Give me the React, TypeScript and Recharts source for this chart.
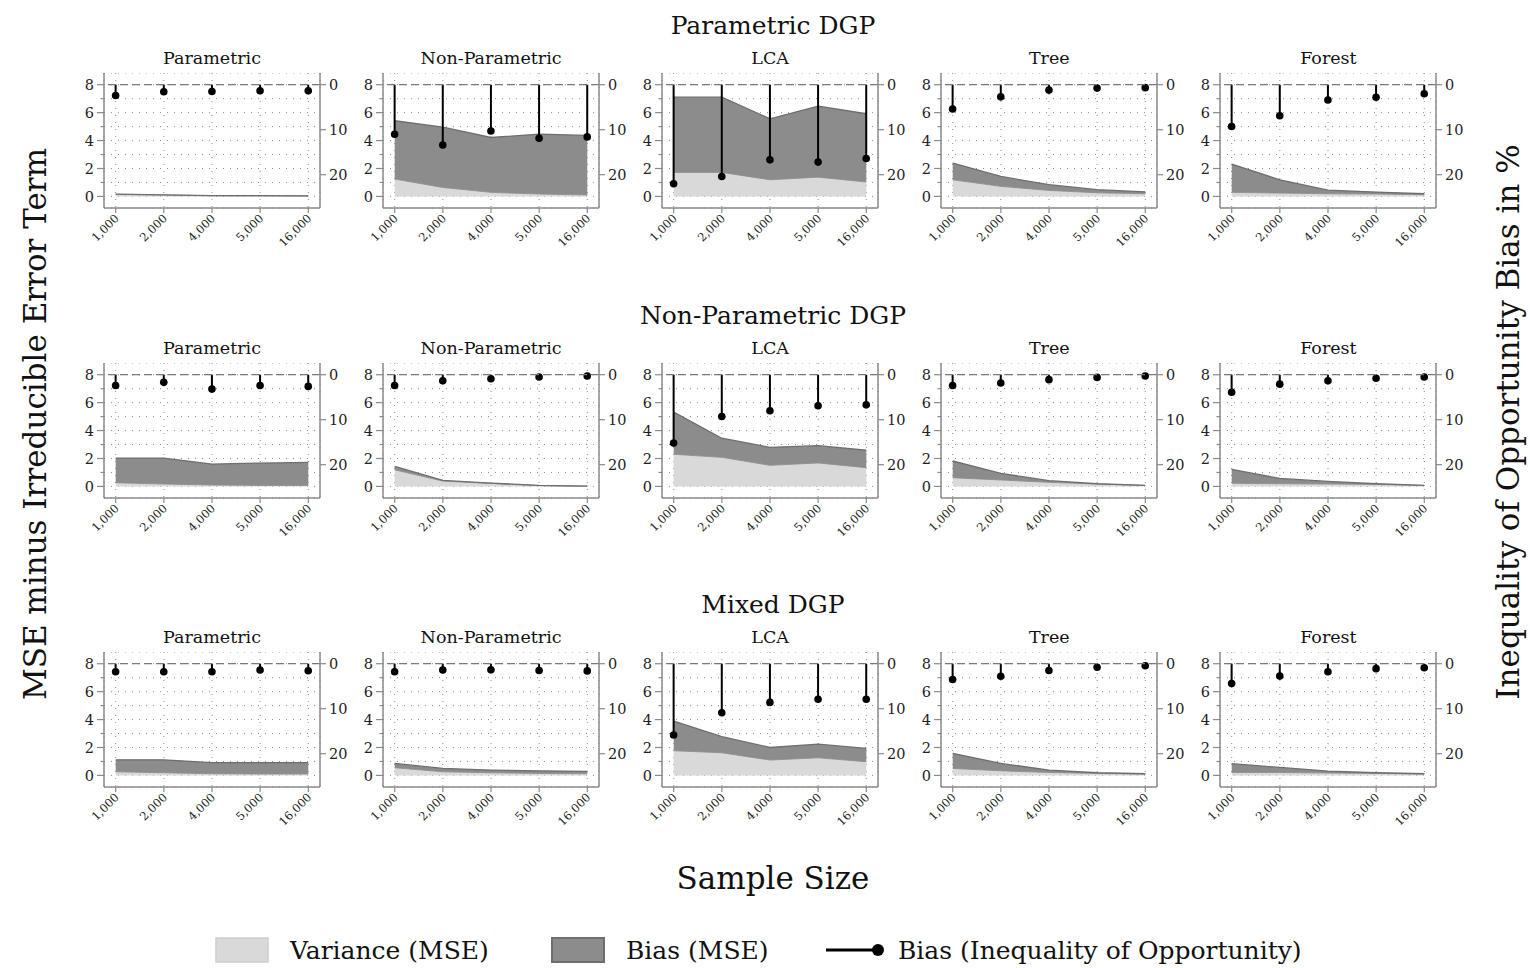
import { ComposedChart, Area, Bar, XAxis, YAxis, CartesianGrid, ReferenceLine } from 'recharts';

const sampleSizes = ['1,000', '2,000', '4,000', '5,000', '16,000'];
const estimators = ['Parametric', 'Non-Parametric', 'LCA', 'Tree', 'Forest'];
const dgps = ['Parametric DGP', 'Non-Parametric DGP', 'Mixed DGP'];

// one row per estimator (Parametric, Non-Parametric, LCA, Tree, Forest), one value per sample size
const varParametricDGP = [
  [0.15, 0.1, 0.05, 0.04, 0.03],
  [1.24, 0.64, 0.29, 0.17, 0.1],
  [1.72, 1.72, 1.19, 1.38, 1.03],
  [1.19, 0.72, 0.43, 0.26, 0.19],
  [0.29, 0.24, 0.19, 0.17, 0.12],
];
const biasParametricDGP = [
  [0.02, 0.01, 0.01, 0.01, 0.01],
  [4.18, 4.32, 3.93, 4.29, 4.27],
  [5.39, 5.39, 4.37, 5.09, 4.89],
  [1.2, 0.71, 0.41, 0.22, 0.14],
  [2.03, 0.95, 0.26, 0.14, 0.07],
];
const iopParametricDGP = [
  [2.4, 1.55, 1.5, 1.35, 1.35],
  [11.0, 13.4, 10.3, 11.9, 11.6],
  [22.0, 20.4, 16.7, 17.2, 16.4],
  [5.4, 2.7, 1.2, 0.75, 0.65],
  [9.3, 6.9, 3.4, 2.8, 2.0],
];

const varNonParametricDGP = [
  [0.26, 0.17, 0.1, 0.07, 0.07],
  [1.19, 0.38, 0.21, 0.05, 0.02],
  [2.3, 2.08, 1.51, 1.68, 1.34],
  [0.62, 0.46, 0.29, 0.17, 0.07],
  [0.22, 0.19, 0.17, 0.14, 0.07],
];
const biasNonParametricDGP = [
  [1.77, 1.86, 1.5, 1.6, 1.65],
  [0.24, 0.05, 0.03, 0.02, 0.0],
  [3.02, 1.37, 1.29, 1.24, 1.25],
  [1.2, 0.47, 0.12, 0.02, 0.0],
  [1.0, 0.38, 0.19, 0.05, 0.0],
];
const iopNonParametricDGP = [
  [2.4, 1.7, 3.2, 2.4, 2.6],
  [2.4, 1.35, 0.9, 0.5, 0.3],
  [15.2, 9.3, 8.0, 6.9, 6.7],
  [2.4, 1.85, 1.1, 0.6, 0.3],
  [3.9, 2.1, 1.35, 0.8, 0.5],
];

const varMixedDGP = [
  [0.26, 0.19, 0.12, 0.1, 0.1],
  [0.55, 0.26, 0.19, 0.14, 0.12],
  [1.77, 1.62, 1.1, 1.26, 0.98],
  [0.5, 0.33, 0.21, 0.14, 0.1],
  [0.21, 0.21, 0.17, 0.14, 0.1],
];
const biasMixedDGP = [
  [0.86, 0.93, 0.79, 0.81, 0.81],
  [0.31, 0.24, 0.19, 0.19, 0.17],
  [2.12, 1.15, 0.9, 0.98, 0.95],
  [1.08, 0.53, 0.17, 0.05, 0.02],
  [0.63, 0.36, 0.14, 0.05, 0.02],
];
const iopMixedDGP = [
  [1.8, 1.8, 1.8, 1.4, 1.55],
  [1.8, 1.4, 1.35, 1.5, 1.6],
  [15.85, 10.9, 8.6, 7.9, 7.9],
  [3.5, 2.8, 1.5, 0.8, 0.45],
  [4.4, 2.75, 1.8, 1.1, 0.9],
];

const varianceByDgp = [varParametricDGP, varNonParametricDGP, varMixedDGP];
const biasByDgp = [biasParametricDGP, biasNonParametricDGP, biasMixedDGP];
const iopByDgp = [iopParametricDGP, iopNonParametricDGP, iopMixedDGP];

const FONT = "'DejaVu Serif', serif";
const AXIS = '#8a8a8a';

const PLOT_W = 216;
const PLOT_H = 135;
const LEFT_W = 34;
const RIGHT_W = 40;
const BOTTOM_H = 58;

const colLeft = (c: number) => 104 + c * 279.1;
const rowTop = (r: number) => 73.3 + r * 289.2;

const LeftTick = (props: any) => {
  const { x, y, payload } = props;
  const v = payload.value;
  const major = v % 2 === 0;
  return (
    <g>
      <line x1={x} x2={x - (major ? 7 : 3.5)} y1={y} y2={y} stroke={AXIS} strokeWidth={1.2} />
      {major && (
        <text x={x - 10} y={y} dy="0.36em" textAnchor="end" fontSize={14.5} fill="#222" fontFamily={FONT}>
          {v}
        </text>
      )}
    </g>
  );
};

const RightTick = (props: any) => {
  const { x, y, payload } = props;
  return (
    <g>
      <line x1={x} x2={x + 6} y1={y} y2={y} stroke={AXIS} strokeWidth={1.2} />
      <text x={x + 9} y={y} dy="0.36em" textAnchor="start" fontSize={14.5} fill="#222" fontFamily={FONT}>
        {payload.value}
      </text>
    </g>
  );
};

const BottomTick = (props: any) => {
  const { x, y, payload } = props;
  const tx = x + 4;
  const ty = y + 11;
  return (
    <g>
      <line x1={x} x2={x} y1={y} y2={y + 5} stroke={AXIS} strokeWidth={1.2} />
      <text
        x={tx}
        y={ty}
        textAnchor="end"
        fontSize={11.5}
        fill="#222"
        fontFamily={FONT}
        transform={`rotate(-45 ${tx} ${ty})`}
      >
        {sampleSizes[payload.value]}
      </text>
    </g>
  );
};

const Lollipop = (props: any) => {
  const { x, y, width, height } = props;
  const cx = x + width / 2;
  const y0 = Math.min(y, y + height);
  const y1 = Math.max(y, y + height);
  return (
    <g>
      <line x1={cx} x2={cx} y1={y0} y2={y1} stroke="#000" strokeWidth={2} />
      <circle cx={cx} cy={y1} r={3.8} fill="#000" />
    </g>
  );
};

function Panel({ dgp, est }: { dgp: number; est: number }) {
  const data = sampleSizes.map((_, i) => ({
    i,
    variance: varianceByDgp[dgp][est][i],
    bias: biasByDgp[dgp][est][i],
    iop: iopByDgp[dgp][est][i],
  }));
  return (
    <ComposedChart
      width={LEFT_W + PLOT_W + RIGHT_W}
      height={PLOT_H + BOTTOM_H}
      data={data}
      margin={{ top: 0, right: 0, bottom: 0, left: 0 }}
      style={{ overflow: 'visible' }}
    >
      <CartesianGrid yAxisId="left" strokeDasharray="1 6" stroke="#8c8c8c" strokeWidth={1} />
      <XAxis
        type="number"
        dataKey="i"
        domain={[-0.243, 4.243]}
        ticks={[0, 1, 2, 3, 4]}
        interval={0}
        allowDataOverflow
        height={BOTTOM_H}
        tickSize={0}
        tickMargin={0}
        tickLine={false}
        axisLine={{ stroke: AXIS, strokeWidth: 1.5 }}
        tick={<BottomTick />}
      />
      <YAxis
        yAxisId="left"
        orientation="left"
        domain={[-0.83, 8.84]}
        ticks={[0, 1, 2, 3, 4, 5, 6, 7, 8]}
        interval={0}
        allowDataOverflow
        width={LEFT_W}
        tickSize={0}
        tickMargin={0}
        tickLine={false}
        axisLine={{ stroke: AXIS, strokeWidth: 1.5 }}
        tick={<LeftTick />}
      />
      <YAxis
        yAxisId="right"
        orientation="right"
        domain={[-2.6, 27.4]}
        reversed
        ticks={[0, 10, 20]}
        interval={0}
        allowDataOverflow
        width={RIGHT_W}
        tickSize={0}
        tickMargin={0}
        tickLine={false}
        axisLine={{ stroke: AXIS, strokeWidth: 1.5 }}
        tick={<RightTick />}
      />
      <Area
        yAxisId="left"
        type="linear"
        dataKey="variance"
        stackId="mse"
        fill="#d9d9d9"
        fillOpacity={1}
        stroke="#9a9a9a"
        strokeWidth={1}
        isAnimationActive={false}
      />
      <Area
        yAxisId="left"
        type="linear"
        dataKey="bias"
        stackId="mse"
        fill="#8c8c8c"
        fillOpacity={1}
        stroke="#6e6e6e"
        strokeWidth={1.3}
        isAnimationActive={false}
      />
      <ReferenceLine yAxisId="right" y={0} stroke="#7a7a7a" strokeWidth={1.3} strokeDasharray="8 4" />
      <Bar yAxisId="right" dataKey="iop" barSize={4} shape={Lollipop} isAnimationActive={false} />
    </ComposedChart>
  );
}

const abs = (left: number, top: number, extra: any = {}) => ({
  position: 'absolute' as const,
  left,
  top,
  fontFamily: FONT,
  color: '#111',
  whiteSpace: 'nowrap' as const,
  ...extra,
});

export default function App() {
  return (
    <div style={{ position: 'relative', width: 1530, height: 968, background: '#fff', overflow: 'hidden' }}>
      <style>{'body{margin:0;}'}</style>

      {dgps.map((name, r) => (
        <div key={name} style={abs(773, rowTop(r) - 48, { fontSize: 25, transform: 'translate(-50%,-50%)' })}>
          {name}
        </div>
      ))}

      {dgps.map((_, r) =>
        estimators.map((est, c) => (
          <div key={`${r}-${c}`}>
            <div
              style={abs(colLeft(c) + PLOT_W / 2, rowTop(r) - 15, {
                fontSize: 17.5,
                transform: 'translate(-50%,-50%)',
              })}
            >
              {est}
            </div>
            <div style={{ position: 'absolute', left: colLeft(c) - LEFT_W, top: rowTop(r) }}>
              <Panel dgp={r} est={c} />
            </div>
          </div>
        ))
      )}

      <div style={abs(35, 424, { fontSize: 31, transform: 'translate(-50%,-50%) rotate(-90deg)' })}>
        MSE minus Irreducible Error Term
      </div>
      <div style={abs(1508, 422, { fontSize: 31, transform: 'translate(-50%,-50%) rotate(-90deg)' })}>
        Inequality of Opportunity Bias in %
      </div>
      <div style={abs(773, 878, { fontSize: 31, transform: 'translate(-50%,-50%)' })}>Sample Size</div>

      <svg style={{ position: 'absolute', left: 0, top: 925 }} width={1530} height={43}>
        <rect x={216} y={13} width={52} height={24} fill="#d9d9d9" stroke="#cdcdcd" strokeWidth={1.5} />
        <text x={290} y={34} fontSize={25} fontFamily={FONT} fill="#111">
          Variance (MSE)
        </text>
        <rect x={552} y={13} width={52} height={24} fill="#8c8c8c" stroke="#6e6e6e" strokeWidth={2} />
        <text x={626} y={34} fontSize={25} fontFamily={FONT} fill="#111">
          Bias (MSE)
        </text>
        <line x1={826} x2={876} y1={25} y2={25} stroke="#000" strokeWidth={3} />
        <circle cx={878} cy={25} r={6} fill="#000" />
        <text x={898} y={34} fontSize={25} fontFamily={FONT} fill="#111">
          Bias (Inequality of Opportunity)
        </text>
      </svg>
    </div>
  );
}
